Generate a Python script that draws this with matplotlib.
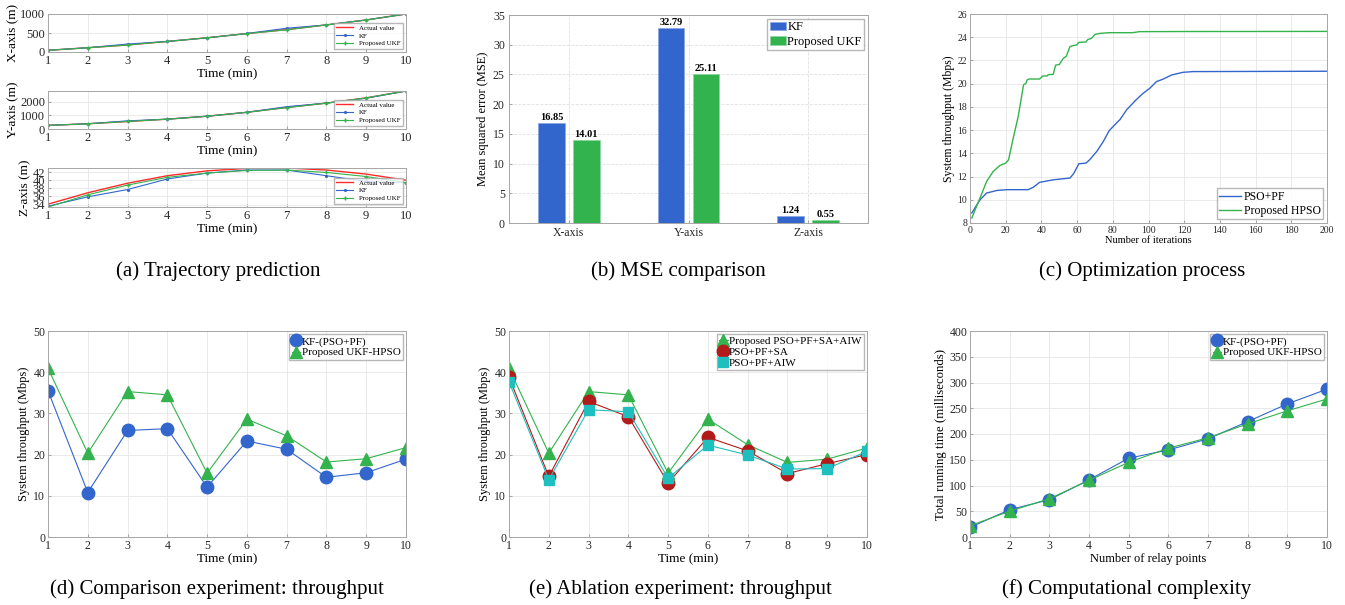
import matplotlib.pyplot as plt
import numpy as np

plt.rcParams['font.family'] = ['Liberation Serif', 'DejaVu Serif']
plt.rcParams['axes.edgecolor'] = '#a6a6a6'
plt.rcParams['xtick.color'] = '#a6a6a6'
plt.rcParams['ytick.color'] = '#a6a6a6'
plt.rcParams['xtick.labelcolor'] = '#262626'
plt.rcParams['ytick.labelcolor'] = '#262626'
plt.rcParams['xtick.direction'] = 'in'
plt.rcParams['ytick.direction'] = 'in'
plt.rcParams['xtick.major.size'] = 2.5
plt.rcParams['ytick.major.size'] = 2.5
plt.rcParams['axes.linewidth'] = 0.7

BLUE = '#3366cc'
GREEN = '#33b34d'
RED = '#ff2a2a'
DRED = '#b31a1a'
CYAN = '#1fbfbf'

# (a) trajectory prediction
t = [1, 2, 3, 4, 5, 6, 7, 8, 9, 10]
x_actual = [45, 112, 185, 278, 374, 485, 590, 713, 843, 1000]
x_kf = [45, 113, 209, 278, 374, 487, 626, 713, 843, 1000]
x_ukf = [45, 112, 183, 278, 374, 485, 583, 713, 843, 1000]
y_actual = [265, 385, 554, 723, 940, 1229, 1590, 1904, 2289, 2795]
y_kf = [265, 385, 600, 723, 940, 1229, 1640, 1904, 2265, 2795]
y_ukf = [265, 385, 554, 723, 940, 1229, 1566, 1904, 2289, 2795]
z_actual = [34.1, 36.9, 39.25, 41.1, 42.3, 42.9, 43.0, 42.5, 41.5, 40.0]
z_kf = [33.6, 35.9, 37.7, 40.3, 41.75, 42.5, 42.5, 41.1, 39.7, 39.4]
z_ukf = [33.4, 36.4, 38.8, 40.7, 41.75, 42.4, 42.5, 41.9, 40.9, 39.4]

# (b) MSE comparison
mse_axes = ['X-axis', 'Y-axis', 'Z-axis']
mse_kf = [16.85, 32.79, 1.24]
mse_ukf = [14.01, 25.11, 0.55]

# (c) optimization process
it_pso = [1, 5.6, 9.3, 15, 20.5, 32.6, 35.4, 39, 46.6, 56, 58, 61, 65, 67, 71, 74.6, 78, 82, 84,
          87.7, 93, 97, 100.7, 104.5, 108, 113, 119.4, 125, 200]
thr_pso = [8.86, 10.0, 10.58, 10.8, 10.87, 10.87, 11.07, 11.5, 11.72, 11.87, 12.24, 13.1, 13.16,
           13.44, 14.16, 15.0, 15.96, 16.6, 16.9, 17.74, 18.6, 19.17, 19.6, 20.18, 20.38, 20.75,
           20.98, 21.04, 21.07]
it_hpso = [1, 5.6, 9.3, 13, 16.8, 20, 21.6, 24, 27, 30, 31.3, 32, 33, 39, 40.7, 43, 44, 46.6, 48,
           50, 52, 54, 56, 57.5, 59.7, 61, 65, 66, 68, 70, 72.8, 78, 91, 95, 117, 200]
thr_hpso = [8.43, 10.15, 11.58, 12.44, 12.96, 13.16, 13.44, 15.16, 17.17, 19.9, 20.03, 20.32, 20.4,
            20.4, 20.66, 20.66, 20.78, 20.8, 21.6, 21.65, 22.13, 22.38, 23.19, 23.27, 23.33, 23.56,
            23.59, 23.8, 23.9, 24.24, 24.33, 24.39, 24.39, 24.48, 24.49, 24.5]

# (d) comparison experiment
thr_kf_pso = [35.5, 10.8, 25.85, 26.3, 12.1, 23.3, 21.3, 14.5, 15.6, 18.9]
thr_ukf_hpso = [40.95, 20.35, 35.3, 34.5, 15.5, 28.6, 24.55, 18.2, 19.0, 21.7]

# (e) ablation experiment
thr_full = [40.95, 20.35, 35.3, 34.5, 15.5, 28.6, 22.4, 18.1, 18.9, 21.6]
thr_sa = [38.8, 14.7, 32.9, 29.2, 13.1, 24.2, 20.9, 15.4, 17.8, 20.0]
thr_aiw = [37.7, 13.9, 30.9, 30.4, 14.3, 22.3, 19.9, 16.5, 16.6, 20.8]

# (f) computational complexity
relay = [1, 2, 3, 4, 5, 6, 7, 8, 9, 10]
time_kf = [18.7, 53, 72.4, 111, 153, 169, 190.6, 224, 258.5, 287]
time_ukf = [22, 50, 74.3, 110, 145, 172.5, 192.6, 219.7, 245, 268]

W, H = 1345, 605
fig = plt.figure(figsize=(W / 100, H / 100), dpi=100)


def add_ax(x0, y0, x1, y1):
    return fig.add_axes([x0 / W, 1 - y1 / H, (x1 - x0) / W, (y1 - y0) / H])


def style(ax, fs):
    ax.grid(True, color='#e6e6e6', linewidth=0.6)
    ax.set_axisbelow(True)
    ax.tick_params(labelsize=fs, pad=2)


def small_legend(ax, fs, loc='upper right', hl=0.8):
    ax.legend(loc=loc, fontsize=fs, fancybox=False, edgecolor='#a6a6a6',
              borderpad=0.2, labelspacing=0.1, handlelength=hl, handletextpad=0.1,
              borderaxespad=0.3)


# (a)
rows = [(14, 52, x_actual, x_kf, x_ukf, 'X-axis (m)', (0, 1000), [0, 500, 1000]),
        (91, 129, y_actual, y_kf, y_ukf, 'Y-axis (m)', (0, 2795), [0, 1000, 2000]),
        (168, 207, z_actual, z_kf, z_ukf, 'Z-axis (m)', (33.4, 43.0), [34, 36, 38, 40, 42])]
for y0, y1, ya, yk, yu, lab, lim, ticks in rows:
    ax = add_ax(48, y0, 406, y1)
    ax.plot(t, ya, color=RED, lw=1.0, label='Actual value')
    ax.plot(t, yk, color=BLUE, lw=0.8, marker='.', ms=2.5, label='KF')
    ax.plot(t, yu, color=GREEN, lw=0.8, marker='+', ms=2.5, label='Proposed UKF')
    ax.set_xlim(1, 10)
    ax.set_ylim(*lim)
    ax.set_xticks(t)
    ax.set_yticks(ticks)
    style(ax, 9)
    ax.set_xlabel('Time (min)', fontsize=9.5, labelpad=1)
    ax.set_ylabel(lab, fontsize=9.5, labelpad=1)
    ax.legend(loc='lower right', fontsize=5, frameon=True, fancybox=False,
              edgecolor='#a6a6a6', borderpad=0.3, labelspacing=0.3, handlelength=2.5)

# (b)
ax = add_ax(509, 15, 868, 223)
pos = np.arange(1, len(mse_axes) + 1)
b1 = ax.bar(pos - 0.146, mse_kf, 0.225, color=BLUE, edgecolor='#8aa6e0', lw=0.5, label='KF')
b2 = ax.bar(pos + 0.146, mse_ukf, 0.225, color=GREEN, edgecolor='#8fd69f', lw=0.5,
            label='Proposed UKF')
for bars in (b1, b2):
    for r in bars:
        ax.text(r.get_x() + r.get_width() / 2, r.get_height() + 0.15, f'{r.get_height():.2f}',
                ha='center', va='bottom', fontsize=7.5, fontweight='bold')
ax.set_xlim(0.5, 3.5)
ax.set_ylim(0, 35)
ax.set_xticks(pos)
ax.set_xticklabels(mse_axes)
ax.grid(True, color='#e0e0e0', linewidth=0.6, linestyle='--')
ax.set_axisbelow(True)
ax.tick_params(labelsize=8.5, pad=3)
ax.set_ylabel('Mean squared error (MSE)', fontsize=9, labelpad=3)
ax.legend(loc='upper right', fontsize=9, fancybox=False, edgecolor='#a6a6a6',
          borderpad=0.2, labelspacing=0.2, handlelength=1.3, handletextpad=0.1,
          borderaxespad=0.3)

# (c)
ax = add_ax(970, 14, 1327, 223)
ax.plot(it_pso, thr_pso, color=BLUE, lw=1.0, label='PSO+PF')
ax.plot(it_hpso, thr_hpso, color=GREEN, lw=1.0, label='Proposed HPSO')
ax.set_xlim(0, 200)
ax.set_ylim(8, 26)
ax.set_xticks(range(0, 201, 20))
ax.set_yticks(range(8, 27, 2))
style(ax, 7)
ax.set_xlabel('Number of iterations', fontsize=7.5, labelpad=1)
ax.set_ylabel('System throughput (Mbps)', fontsize=8.5, labelpad=2)
ax.legend(loc='lower right', fontsize=8.5, fancybox=False, edgecolor='#a6a6a6',
          borderpad=0.2, labelspacing=0.2, handlelength=1.8, handletextpad=0.3,
          borderaxespad=0.3)

# (d)
ax = add_ax(48, 331, 406, 537)
ax.plot(t, thr_kf_pso, color=BLUE, lw=0.8, marker='o', ms=9, label='KF-(PSO+PF)')
ax.plot(t, thr_ukf_hpso, color=GREEN, lw=0.8, marker='^', ms=9, label='Proposed UKF-HPSO')
ax.set_xlim(1, 10)
ax.set_ylim(0, 50)
ax.set_xticks(t)
style(ax, 8.5)
ax.set_xlabel('Time (min)', fontsize=9.5, labelpad=1)
ax.set_ylabel('System throughput (Mbps)', fontsize=9, labelpad=2)
small_legend(ax, 8)

# (e)
ax = add_ax(509, 331, 867, 537)
ax.plot(t, thr_full, color=GREEN, lw=0.8, marker='^', ms=9, label='Proposed PSO+PF+SA+AIW')
ax.plot(t, thr_sa, color=DRED, lw=0.8, marker='o', ms=9, label='PSO+PF+SA')
ax.plot(t, thr_aiw, color=CYAN, lw=0.8, marker='s', ms=7, label='PSO+PF+AIW')
ax.set_xlim(1, 10)
ax.set_ylim(0, 50)
ax.set_xticks(t)
style(ax, 8.5)
ax.set_xlabel('Time (min)', fontsize=9.5, labelpad=1)
ax.set_ylabel('System throughput (Mbps)', fontsize=9, labelpad=2)
small_legend(ax, 8)

# (f)
ax = add_ax(970, 331, 1327, 537)
ax.plot(relay, time_kf, color=BLUE, lw=0.8, marker='o', ms=9, label='KF-(PSO+PF)')
ax.plot(relay, time_ukf, color=GREEN, lw=0.8, marker='^', ms=9, label='Proposed UKF-HPSO')
ax.set_xlim(1, 10)
ax.set_ylim(0, 400)
ax.set_xticks(relay)
style(ax, 8.5)
ax.set_xlabel('Number of relay points', fontsize=9, labelpad=1)
ax.set_ylabel('Total running time (milliseconds)', fontsize=9.2, labelpad=2)
small_legend(ax, 8)

captions = [(218, 271, '(a) Trajectory prediction'), (678, 271, '(b) MSE comparison'),
            (1142, 271, '(c) Optimization process'),
            (217, 589, '(d) Comparison experiment: throughput'),
            (680, 589, '(e) Ablation experiment: throughput'),
            (1127, 589, '(f) Computational complexity')]
for cx, cy, txt in captions:
    fig.text(cx / W, 1 - cy / H, txt, ha='center', va='center', fontsize=15)

fig.savefig('out.png', dpi=100)
